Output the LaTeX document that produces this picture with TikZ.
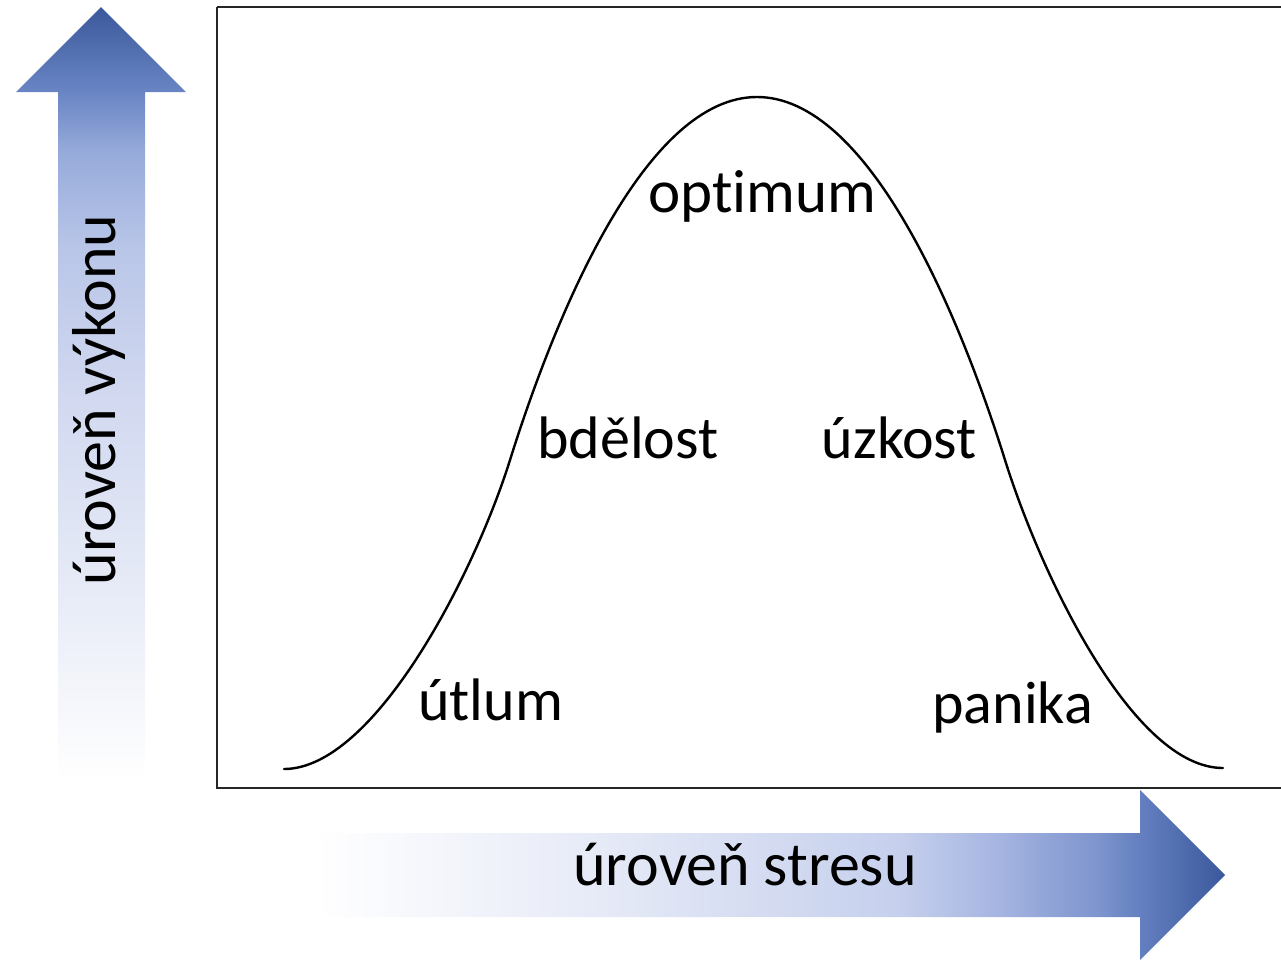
\documentclass[tikz,border=0pt]{standalone}
\usepackage{fontspec}
\setmainfont[Ligatures=NoCommon]{Carlito}
\definecolor{sA}{RGB}{232,236,247}
\definecolor{sB}{RGB}{210,217,240}
\definecolor{sC}{RGB}{185,198,232}
\definecolor{sD}{RGB}{150,170,218}
\definecolor{sE}{RGB}{105,133,196}
\definecolor{sF}{RGB}{58,88,155}
\definecolor{hA}{RGB}{230,234,247}
\definecolor{hB}{RGB}{198,208,237}
\definecolor{hC}{RGB}{165,180,225}
\definecolor{hD}{RGB}{125,148,205}
\definecolor{hE}{RGB}{100,128,192}
\pgfdeclareverticalshading{vshade}{100bp}{color(0bp)=(white); color(25bp)=(white); color(36.6bp)=(sA); color(49.6bp)=(sB); color(59.3bp)=(sC); color(65.7bp)=(sD); color(69.5bp)=(sE); color(75bp)=(sF); color(100bp)=(sF)}
\pgfdeclarehorizontalshading{hshade}{100bp}{color(0bp)=(white); color(25bp)=(white); color(40.7bp)=(hA); color(57.1bp)=(hB); color(62.6bp)=(hC); color(68.1bp)=(hD); color(70.3bp)=(hE); color(75bp)=(sF); color(100bp)=(sF)}
\begin{document}
\begin{tikzpicture}[x=1pt,y=-1pt,
  lbl/.style={font=\fontsize{60}{72}\selectfont, inner sep=0pt, text=black},
  biglbl/.style={font=\fontsize{62}{74}\selectfont, inner sep=0pt, text=black},
  curve/.style={line width=2.4pt, black, line cap=round}]
\useasboundingbox (0,0) rectangle (1281,959);
% axis arrows
\shade[shading=vshade] (58,780) -- (58,92) -- (16,92) -- (101,7) -- (186,92) -- (145,92) -- (145,780) -- cycle;
\shade[shading=hshade] (315,833) -- (1140,833) -- (1140,790) -- (1225,875) -- (1140,960) -- (1140,917) -- (315,917) -- cycle;
% frame
\draw[line width=1.8pt, black!85] (217,7) -- (1290,7) (217,7) -- (217,788) -- (1290,788);
% bell curve
\coordinate (c0) at (284,769);
\coordinate (c1) at (510,460);
\coordinate (c2) at (757,97);
\coordinate (c3) at (1005,460);
\coordinate (c4) at (1223,768);
\draw[curve] (c0) .. controls (374,769) and (474,575) .. (c1)
  .. controls (558,307) and (647,97) .. (c2)
  .. controls (867,97) and (957,307) .. (c3)
  .. controls (1041,575) and (1133,768) .. (c4);
% labels
\node[lbl, font=\fontsize{61}{73}\selectfont, anchor=base west] (opt) at (648,212) {optimum};
\node[lbl, anchor=base west] (bde) at (537,458) {bdělost};
\node[lbl, anchor=base east] (uzk) at (977,458) {úzkost};
\node[lbl, anchor=base west] (utl) at (418,720) {útlum};
\node[lbl, anchor=base east] (pan) at (1093,723) {panika};
\node[biglbl, anchor=base] (xlab) at (745,885) {úroveň stresu};
\node[biglbl, anchor=base, rotate=90] (ylab) at (115,400) {úroveň výkonu};
\end{tikzpicture}
\end{document}
